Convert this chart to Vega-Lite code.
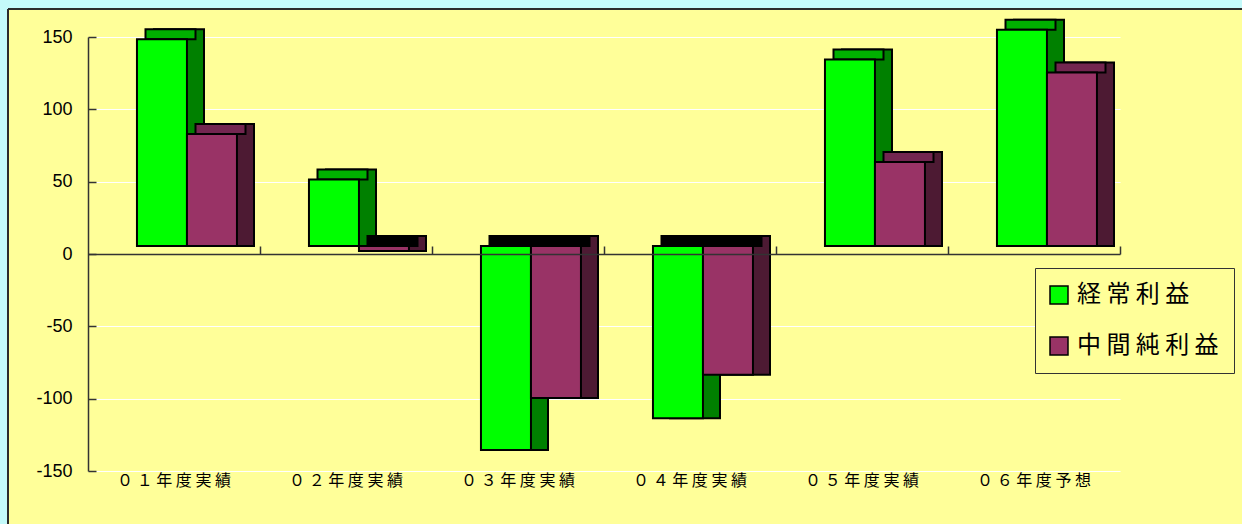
{
  "$schema": "https://vega.github.io/schema/vega-lite/v6.json",
  "autosize": {"type": "none"},
  "width": 1234,
  "height": 515,
  "padding": {"left": 8, "top": 9, "right": 0, "bottom": 0},
  "background": "#C4FAFA",
  "config": {
    "font": "Noto Sans CJK JP",
    "view": {"fill": "#FFFF99", "stroke": "#2B2B2B", "strokeWidth": 2, "strokeDash": [1234, 1749, 515, 0]},
    "legend": {
      "orient": "none", "legendX": 1027, "legendY": 259,
      "fillColor": "#FFFF99", "strokeColor": "#333333", "padding": 15,
      "symbolType": "square", "symbolSize": 324, "symbolStrokeColor": "black", "symbolStrokeWidth": 1.5,
      "symbolOffset": -3,
      "labelFont": "Noto Sans CJK JP", "labelFontSize": 24, "labelColor": "black",
      "rowPadding": 27, "labelOffset": 6, "labelLimit": 300
    }
  },
  "data": {"values": [
    {"year": "０１年度実績", "series": "経常利益", "value": 143},
    {"year": "０１年度実績", "series": "中間純利益", "value": 77.5},
    {"year": "０２年度実績", "series": "経常利益", "value": 46},
    {"year": "０２年度実績", "series": "中間純利益", "value": -3.5},
    {"year": "０３年度実績", "series": "経常利益", "value": -141},
    {"year": "０３年度実績", "series": "中間純利益", "value": -105},
    {"year": "０４年度実績", "series": "経常利益", "value": -119},
    {"year": "０４年度実績", "series": "中間純利益", "value": -89},
    {"year": "０５年度実績", "series": "経常利益", "value": 129},
    {"year": "０５年度実績", "series": "中間純利益", "value": 58},
    {"year": "０６年度予想", "series": "経常利益", "value": 149.5},
    {"year": "０６年度予想", "series": "中間純利益", "value": 120}
  ]},
  "resolve": {"scale": {"fill": "independent", "xOffset": "independent"}, "axis": {"x": "independent", "y": "independent"}},
  "layer": [
    {
      "transform": [{"filter": "datum.value > 0"}],
      "mark": {"type": "bar", "stroke": "black", "strokeWidth": 2, "yOffset": -18, "y2Offset": -8},
      "encoding": {
        "x": {"field": "year", "type": "nominal", "sort": null,
          "scale": {"domain": ["０１年度実績", "０２年度実績", "０３年度実績", "０４年度実績", "０５年度実績", "０６年度予想"],
            "range": [80, 1112], "paddingInner": 0, "paddingOuter": 0},
          "axis": {"orient": "bottom", "offset": -53, "domain": false, "ticks": false, "labelPadding": 1,
            "labelFont": "Noto Sans CJK JP", "labelFontSize": 16, "labelColor": "black", "labelAngle": 0,
            "labelExpr": "join(split(datum.label, ''), ' ')", "title": null, "zindex": 0}},
        "xOffset": {"field": "series", "type": "nominal", "sort": ["経常利益", "中間純利益"],
          "scale": {"domain": ["経常利益", "中間純利益"], "paddingInner": 0, "paddingOuter": 0.72, "align": 0.9167}},
        "y": {"field": "value", "type": "quantitative",
          "scale": {"domain": [-150, 150], "range": [462, 28], "nice": false, "zero": false},
          "axis": {"orient": "left", "offset": -80, "values": [-150, -100, -50, 0, 50, 100, 150],
            "grid": false, "domainColor": "#333333", "domainWidth": 1.5, "tickColor": "#333333", "tickWidth": 1.5, "tickSize": -8,
            "labelPadding": 24, "labelFont": "Liberation Sans", "labelFontSize": 18, "labelColor": "black",
            "labelExpr": "datum.value < 0 ? '-' + abs(datum.value) : '' + datum.value",
            "title": null, "zindex": 0}},
        "y2": {"datum": 0},
        "fill": {"field": "series", "type": "nominal", "legend": null,
          "scale": {"domain": ["経常利益", "中間純利益"], "range": ["#008000", "#4D1A33"]}}
      }
    },
    {
      "transform": [{"filter": "datum.value < 0"}],
      "mark": {"type": "bar", "stroke": "black", "strokeWidth": 2, "yOffset": -8, "y2Offset": -18},
      "encoding": {
        "x": {"field": "year", "type": "nominal", "sort": null, "axis": null},
        "xOffset": {"field": "series", "type": "nominal", "sort": ["経常利益", "中間純利益"],
          "scale": {"domain": ["経常利益", "中間純利益"], "paddingInner": 0, "paddingOuter": 0.72, "align": 0.9167}},
        "y": {"field": "value", "type": "quantitative", "axis": null,
          "scale": {"domain": [-150, 150], "range": [462, 28], "nice": false, "zero": false}},
        "y2": {"datum": 0},
        "fill": {"field": "series", "type": "nominal", "legend": null,
          "scale": {"domain": ["経常利益", "中間純利益"], "range": ["#008000", "#4D1A33"]}}
      }
    },
    {
      "transform": [{"filter": "datum.value > 0"}],
      "mark": {"type": "bar", "stroke": "black", "strokeWidth": 2, "yOffset": -18, "y2Offset": -8},
      "encoding": {
        "x": {"field": "year", "type": "nominal", "sort": null, "axis": null},
        "xOffset": {"field": "series", "type": "nominal", "sort": ["経常利益", "中間純利益"],
          "scale": {"domain": ["経常利益", "中間純利益"], "paddingInner": 0, "paddingOuter": 0.72, "align": 0.7986}},
        "y": {"field": "value", "type": "quantitative", "axis": null,
          "scale": {"domain": [-150, 150], "range": [462, 28], "nice": false, "zero": false}},
        "y2": {"field": "value"},
        "fill": {"field": "series", "type": "nominal", "legend": null,
          "scale": {"domain": ["経常利益", "中間純利益"], "range": ["#00B000", "#732650"]}}
      }
    },
    {
      "transform": [{"filter": "datum.value < 0"}],
      "mark": {"type": "bar", "fill": "black", "stroke": "black", "strokeWidth": 2, "yOffset": -18, "y2Offset": -8},
      "encoding": {
        "x": {"field": "year", "type": "nominal", "sort": null, "axis": null},
        "xOffset": {"field": "series", "type": "nominal", "sort": ["経常利益", "中間純利益"],
          "scale": {"domain": ["経常利益", "中間純利益"], "paddingInner": 0, "paddingOuter": 0.72, "align": 0.7986}},
        "y": {"datum": 0, "type": "quantitative", "axis": null,
          "scale": {"domain": [-150, 150], "range": [462, 28], "nice": false, "zero": false}},
        "y2": {"datum": 0}
      }
    },
    {
      "mark": {"type": "bar", "stroke": "black", "strokeWidth": 2, "yOffset": -8, "y2Offset": -8},
      "encoding": {
        "x": {"field": "year", "type": "nominal", "sort": null,
          "axis": {"orient": "top", "offset": -245, "domain": true, "domainColor": "#333333", "domainWidth": 1.5,
            "ticks": true, "tickColor": "#333333", "tickWidth": 1.5, "tickSize": 8, "bandPosition": 1,
            "labels": false, "grid": false, "title": null, "zindex": 1}},
        "xOffset": {"field": "series", "type": "nominal", "sort": ["経常利益", "中間純利益"],
          "scale": {"domain": ["経常利益", "中間純利益"], "paddingInner": 0, "paddingOuter": 0.72, "align": 0.68}},
        "y": {"field": "value", "type": "quantitative",
          "scale": {"domain": [-150, 150], "range": [462, 28], "nice": false, "zero": false},
          "axis": {"orient": "left", "offset": 0, "values": [-150, -100, -50, 0, 50, 100, 150],
            "grid": true, "gridColor": "#FFFFFF", "gridWidth": 1.2,
            "domain": false, "ticks": false, "labels": false, "title": null, "zindex": 0}},
        "y2": {"datum": 0},
        "fill": {"field": "series", "type": "nominal", "title": null,
          "scale": {"domain": ["経常利益", "中間純利益"], "range": ["#00FF00", "#993366"]},
          "legend": {"labelExpr": "join(split(datum.label, ''), ' ')"}}
      }
    }
  ]
}
